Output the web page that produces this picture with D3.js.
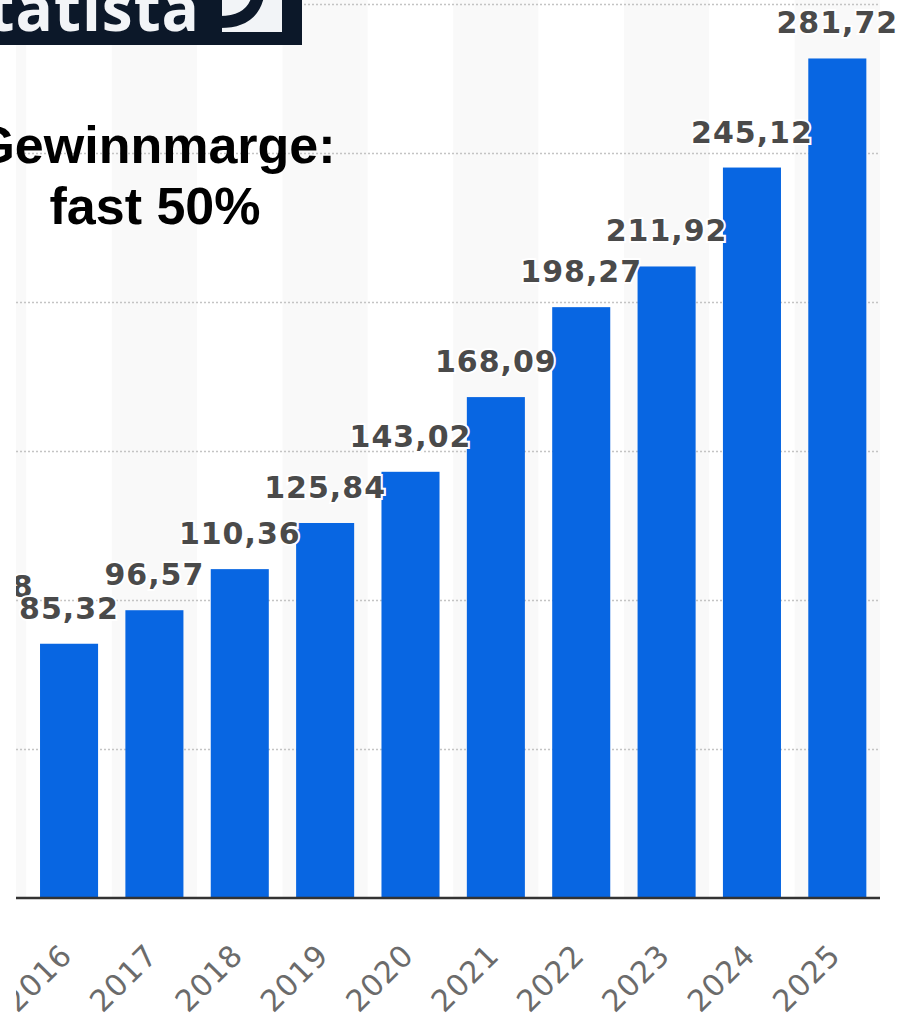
<!DOCTYPE html>
<html>
<head>
<meta charset="utf-8">
<title>Umsatz Balkendiagramm</title>
<script src="https://cdnjs.cloudflare.com/ajax/libs/d3/7.8.5/d3.min.js"></script>
<style>
    body { margin: 0; background: #fff; }
    .grid line { stroke: #c4c4c4; stroke-width: 1.5px; stroke-dasharray: 2,2; }
    .grid .domain { display: none; }
    .x-axis .domain { stroke: #333; stroke-width: 2.5px; }
    .x-axis text { font-family: "DejaVu Sans", Verdana, sans-serif; font-size: 30px; fill: #6b6b6b; letter-spacing: 1px; }
    .value-label {
        font-family: "DejaVu Sans", Verdana, sans-serif;
        font-weight: bold;
        font-size: 30px;
        letter-spacing: 1px;
        fill: #4a4a4a;
        stroke: #fff;
        stroke-width: 4px;
        paint-order: stroke;
        text-anchor: middle;
    }
    .note { font-family: "Liberation Sans", Arial, sans-serif; font-weight: bold; font-size: 52px; fill: #000; text-anchor: middle; }
</style>
</head>
<body>
<div id="chart"></div>
<script>
// values (2015 is cut off at the left edge)
const years = ["2015", "2016", "2017", "2018", "2019", "2020", "2021", "2022", "2023", "2024", "2025"];
const values = [80.68, 85.32, 96.57, 110.36, 125.84, 143.02, 168.09, 198.27, 211.92, 245.12, 281.72];
const gridTicks = [50, 100, 150, 200, 250, 300];
const noteLines = ["Gewinnmarge:", "fast 50%"];
const logoText = "statista";

const width = 902, height = 1020;
const plotLeft = 16, plotRight = 880, baseY = 898, topY = 4;

const de = d3.formatLocale({ decimal: ",", thousands: ".", grouping: [3], currency: ["", " €"] });
const fmt = de.format(".2f");

const svg = d3.select('#chart')
    .append('svg')
    .attr('width', width)
    .attr('height', height);

svg.append('clipPath').attr('id', 'plot-clip')
    .append('rect')
    .attr('x', plotLeft).attr('y', 0)
    .attr('width', width - plotLeft).attr('height', height);

const x = d3.scaleBand()
    .domain(years)
    .range([-59, plotRight])
    .paddingInner(0.32)
    .paddingOuter(0.16);

const y = d3.scaleLinear()
    .domain([0, 300])
    .range([baseY, topY]);

const g = svg.append('g').attr('clip-path', 'url(#plot-clip)');

// alternating column bands
g.append('g')
    .selectAll('rect')
    .data(years)
    .join('rect')
    .attr('x', d => x(d) - x.step() * 0.16)
    .attr('y', 0)
    .attr('width', x.step())
    .attr('height', baseY)
    .attr('fill', (d, i) => i % 2 === 0 ? '#f9f9f9' : '#fff');

// dotted gridlines
g.append('g')
    .attr('class', 'grid')
    .attr('transform', `translate(${plotLeft},0)`)
    .call(d3.axisLeft(y).tickValues(gridTicks).tickSize(-(plotRight - plotLeft)).tickFormat(''));

// bars
g.append('g')
    .selectAll('rect')
    .data(values)
    .join('rect')
    .attr('x', (d, i) => x(years[i]))
    .attr('y', d => y(d))
    .attr('width', x.bandwidth())
    .attr('height', d => y(0) - y(d))
    .attr('fill', '#0866e2');

// x axis
const xAxis = g.append('g')
    .attr('class', 'x-axis')
    .attr('transform', `translate(0,${baseY})`)
    .call(d3.axisBottom(x).tickSize(0).tickSizeOuter(0));
xAxis.select('.domain').attr('d', `M${plotLeft},0H${plotRight}`);
xAxis.selectAll('text')
    .attr('x', 0).attr('y', 0).attr('dy', 0)
    .attr('text-anchor', 'end')
    .attr('transform', 'translate(5,59) rotate(-45)');

// value labels, pushed up when they would collide with the next one
const labelY = values.map(v => y(v) - 25);
for (let i = labelY.length - 2; i >= 0; i--) {
    if (Math.abs(labelY[i] - labelY[i + 1]) < 22) labelY[i] = labelY[i + 1] - 22;
}
g.append('g')
    .selectAll('text')
    .data(values)
    .join('text')
    .attr('class', 'value-label')
    .attr('x', (d, i) => x(years[i]) + x.bandwidth() / 2)
    .attr('y', (d, i) => labelY[i])
    .text(d => fmt(d));

// annotation
svg.append('g')
    .selectAll('text')
    .data(noteLines)
    .join('text')
    .attr('class', 'note')
    .attr('x', 155)
    .attr('y', (d, i) => 163 + i * 61)
    .text(d => d);

// logo (cut off at top-left)
const logo = svg.append('g');
logo.append('rect').attr('x', 0).attr('y', 0).attr('width', 302).attr('height', 45).attr('fill', '#0c1829');
logo.append('text')
    .attr('x', 200).attr('y', 31)
    .attr('text-anchor', 'end')
    .style('font-family', '"Open Sans", sans-serif')
    .style('font-weight', 700)
    .style('font-size', '62px')
    .style('letter-spacing', '1px')
    .attr('fill', '#f2f4f7')
    .text(logoText);
logo.append('rect').attr('x', 222).attr('y', 0).attr('width', 60).attr('height', 32).attr('fill', '#f2f4f7');
logo.append('path')
    .attr('d', 'M258,-4 Q252,22 220,22')
    .attr('fill', 'none')
    .attr('stroke', '#0c1829')
    .attr('stroke-width', 12);
</script>
</body>
</html>
